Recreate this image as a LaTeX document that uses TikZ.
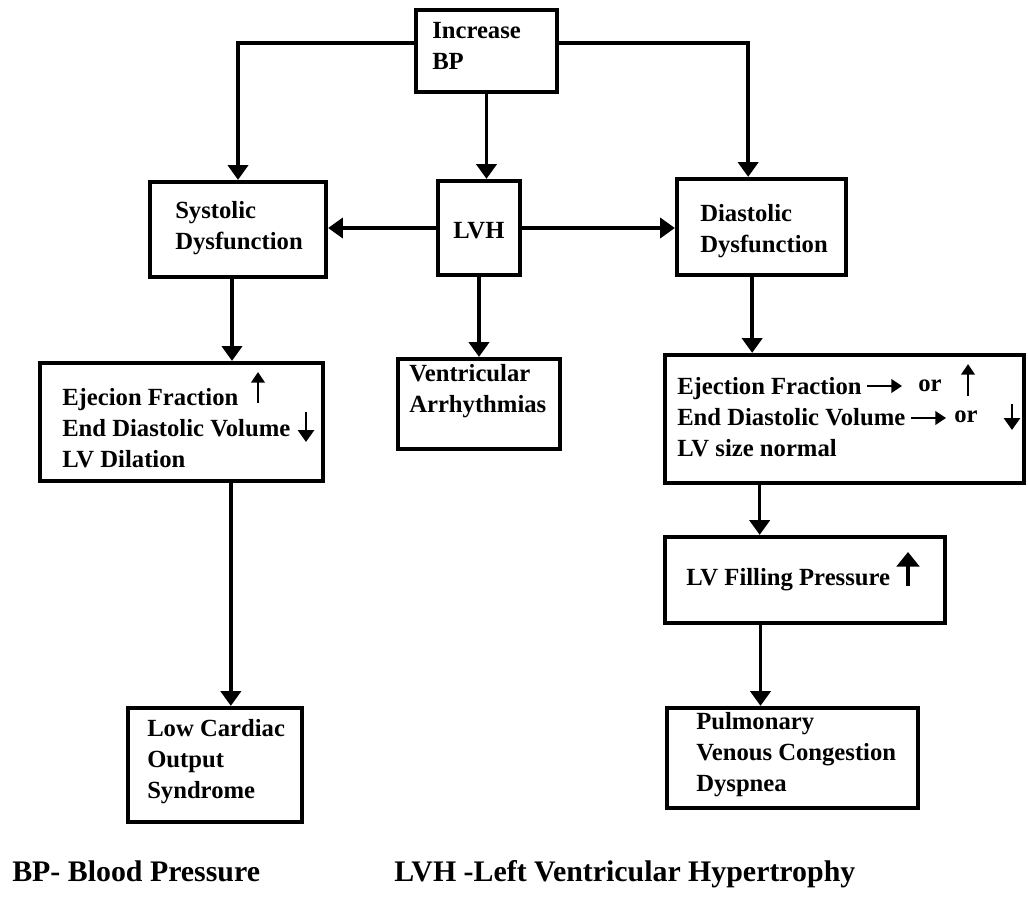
\documentclass[tikz,border=0pt]{standalone}
\usepackage{fontspec}
\setmainfont{Liberation Serif}
\usetikzlibrary{arrows.meta}
\begin{document}
\begin{tikzpicture}[x=0.75pt,y=-0.75pt,
  box/.style={draw, line width=3.2pt, inner sep=0pt},
  conn/.style={line width=2.6pt, -{Triangle[width=15pt,length=11pt]}},
  sym/.style={line width=2.2pt, -{Triangle[width=10pt,length=8pt]}},
  txt/.style={anchor=west, align=left, inner sep=0pt, font=\bfseries\fontsize{18.5pt}{23.25pt}\selectfont},
  foot/.style={anchor=base west, inner sep=0pt, font=\bfseries\fontsize{22.4pt}{26pt}\selectfont}]
\useasboundingbox[fill=white] (0,0) rectangle (1028,897);
% boxes
\node[box, minimum width=105.75pt, minimum height=61.5pt] (inc) at (486.5,51) {};
\node[box, minimum width=132pt, minimum height=71.25pt] (sys) at (238,229.5) {};
\node[box, minimum width=61.5pt, minimum height=70.5pt] (lvh) at (479,228) {};
\node[box, minimum width=126.75pt, minimum height=72pt] (dia) at (761.5,227) {};
\node[box, minimum width=212.25pt, minimum height=88.5pt] (efl) at (181.5,422) {};
\node[box, minimum width=121.5pt, minimum height=67.5pt] (ven) at (479,404) {};
\node[box, minimum width=269.25pt, minimum height=96pt] (efr) at (844.5,419) {};
\node[box, minimum width=210pt, minimum height=64.5pt] (lvf) at (805,580) {};
\node[box, minimum width=130.5pt, minimum height=85.5pt] (low) at (215,765) {};
\node[box, minimum width=188.25pt, minimum height=75pt] (pul) at (792.5,758) {};
% texts
\node[txt] (tinc) at (432,46) {Increase\\BP};
\node[txt] (tsys) at (175,228) {Systolic\\Dysfunction};
\node[txt] (tlvh) at (453,231) {LVH};
\node[txt] (tdia) at (700,231) {Diastolic\\Dysfunction};
\node[txt] (tefl) at (62,428) {Ejecion Fraction\\End Diastolic Volume\\LV Dilation};
\node[txt] (tven) at (409,391) {Ventricular\\Arrhythmias};
\node[txt] (tefr) at (677,417) {Ejection Fraction\\End Diastolic Volume\\LV size normal};
\node[txt] (or1) at (918,386) {or};
\node[txt] (or2) at (954,417) {or};
\node[txt] (tlvf) at (686,580) {LV Filling Pressure};
\node[txt] (tlow) at (147,762) {Low Cardiac\\Output\\Syndrome};
\node[txt] (tpul) at (696,755) {Pulmonary\\Venous Congestion\\Dyspnea};
\node[foot] (f1) at (12,881) {BP- Blood Pressure};
\node[foot] (f2) at (394,881) {LVH -Left Ventricular Hypertrophy};
% helper coordinates
\coordinate (ia) at ([yshift=6pt]inc.west);
\coordinate (ib) at ([yshift=6pt]inc.east);
\coordinate (dt) at ([xshift=-10pt]dia.north);
\coordinate (s1) at ([xshift=-4.5pt]sys.south);
\coordinate (e1) at ([xshift=37pt]efl.south);
\coordinate (d1) at ([xshift=-7pt]dia.south);
\coordinate (l1) at ([xshift=-34pt]lvf.north);
\coordinate (p1) at ([xshift=-24pt]pul.north);
% connectors
\draw[conn] (ia) -| (sys.north);
\draw[conn] (ib) -| (dt);
\draw[conn] (inc.south) -- (inc.south |- lvh.north);
\draw[conn] (lvh.west) -- (lvh.west -| sys.east);
\draw[conn] (lvh.east) -- (lvh.east -| dia.west);
\draw[conn] (lvh.south) -- (ven.north);
\draw[conn] (s1) -- (s1 |- efl.north);
\draw[conn] (e1) -- (e1 |- low.north);
\draw[conn] (d1) -- (d1 |- efr.north);
\draw[conn] (l1 |- efr.south) -- (l1);
\draw[conn] (p1 |- lvf.south) -- (p1);
% inline symbol arrows
\draw[sym] (258,403) -- (258,372);
\draw[sym, -{Triangle[width=12pt,length=9pt]}] (306,412) -- (306,442);
\draw[sym] (867,386) -- (902,386);
\draw[sym] (911,418) -- (946,418);
\draw[sym] (968,396) -- (968,364);
\draw[sym, -{Triangle[width=12pt,length=9pt]}] (1012,404) -- (1012,430);
\draw[sym, line width=2.6pt, -{Triangle[width=17pt,length=11pt]}] (908,586) -- (908,552);
\end{tikzpicture}
\end{document}
